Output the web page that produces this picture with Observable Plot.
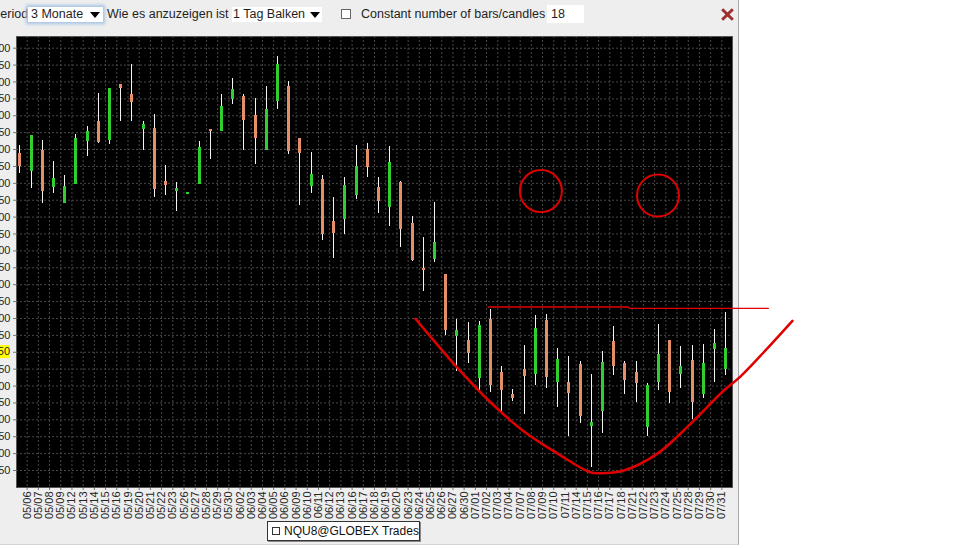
<!DOCTYPE html>
<html><head><meta charset="utf-8">
<script src="https://cdn.jsdelivr.net/npm/d3@7"></script>
<script src="https://cdn.jsdelivr.net/npm/@observablehq/plot@0.6"></script>
<style>
html,body{margin:0;padding:0;background:#fff;width:972px;height:548px;overflow:hidden;font-family:"Liberation Sans",Arial,sans-serif;}
#panel{position:absolute;left:0;top:0;width:738px;height:544px;background:#eeeeee;border-right:1px solid #a8a8a8;border-bottom:1px solid #d4d4d4;}
.tb{position:absolute;top:6px;font-size:12.5px;color:#1e1e1e;line-height:16px;white-space:nowrap;}
.box{position:absolute;background:#fff;}
.tri{position:absolute;width:0;height:0;border-left:5px solid transparent;border-right:5px solid transparent;border-top:6px solid #000;}
#chart{position:absolute;left:0;top:30px;}
#legend{position:absolute;left:267px;top:521px;width:151px;height:18px;background:#fff;border:1px solid #333;box-shadow:1px 1px 0 #888;font-size:12px;line-height:18px;color:#111;white-space:nowrap;}
#legend .sq{display:inline-block;width:6px;height:6px;border:1px solid #333;margin:0 4px 0 4px;vertical-align:0px;}
#close{position:absolute;left:721px;top:8px;width:13px;height:13px;}
#close i{position:absolute;left:-1px;top:5px;width:15px;height:3px;background:#9c2f2f;}
</style></head>
<body>
<div id="panel"></div>
<div class="tb" style="left:-8px">Period</div>
<div class="box" style="left:28px;top:7px;width:75px;height:15px;box-shadow:0 0 3px 2px #a8c4e6;"></div>
<div class="tb" style="left:31px">3 Monate</div>
<div class="tri" style="left:90px;top:12px"></div>
<div class="tb" style="left:107px">Wie es anzuzeigen ist</div>
<div class="box" style="left:232px;top:7px;width:90px;height:15px;"></div>
<div class="tb" style="left:233px">1 Tag Balken</div>
<div class="tri" style="left:310px;top:12px"></div>
<div class="box" style="left:341px;top:9px;width:8px;height:8px;border:1px solid #666;"></div>
<div class="tb" style="left:361px">Constant number of bars/candles</div>
<div class="box" style="left:547px;top:5px;width:37px;height:18px;"></div>
<div class="tb" style="left:551px">18</div>
<div id="close"><i style="transform:rotate(45deg)"></i><i style="transform:rotate(-45deg)"></i></div>
<div id="chart"></div>
<div id="legend"><span class="sq"></span>NQU8@GLOBEX Trades</div>
<script>
// ---- data ----
const dayLabels = ["05/06","05/07","05/08","05/09","05/12","05/13","05/14","05/15","05/16","05/19","05/20","05/21","05/22","05/23","05/26","05/27","05/28","05/29","05/30",
"06/02","06/03","06/04","06/05","06/06","06/09","06/10","06/11","06/12","06/13","06/16","06/17","06/18","06/19","06/20","06/23","06/24","06/25","06/26","06/27","06/30",
"07/01","07/02","07/03","07/04","07/07","07/08","07/09","07/10","07/11","07/14","07/15","07/16","07/17","07/18","07/21","07/22","07/23","07/24","07/25","07/28","07/29","07/30","07/31"];
const openPx  = [7088,7034,7098,6987,6941,6997,7124,7184,7126,7293,7262,7159,7162,7006,6977,6968,6997,7159,7154,7248,7257,7201,7097,7243,7287,7134,6992,7011,6888,6893,6965,7100,6987,6927,7001,6880,6748,6775,6729,6546,6536,6421,6598,6440,6374,6450,6435,6595,6411,6411,6465,6280,6325,6531,6467,6440,6278,6411,6534,6433,6475,6374,6509,6450];
const highPx  = [7113,7142,7127,7065,7024,7144,7169,7267,7282,7294,7353,7184,7205,7054,7001,6972,7124,7159,7262,7310,7262,7250,7287,7375,7302,7134,7092,7024,6959,7018,7113,7118,7016,7110,7004,6903,6841,6944,6731,6598,6588,6591,6627,6457,6391,6519,6608,6611,6512,6487,6473,6435,6501,6575,6472,6472,6408,6583,6536,6516,6519,6522,6568,6617];
const lowPx   = [7028,6984,6939,6969,6939,6997,7080,7119,7116,7184,7184,7097,6959,6965,6916,6968,6997,7070,7152,7233,7097,7056,7097,7218,7085,6934,6969,6831,6778,6849,6952,7016,6910,6871,6809,6770,6679,6765,6549,6443,6467,6388,6381,6325,6355,6315,6403,6393,6337,6251,6288,6160,6260,6430,6376,6352,6251,6388,6347,6393,6300,6362,6411,6430];
const closePx = [7051,7142,6977,7013,6992,7132,7154,7120,7280,7282,7238,7174,6982,6995,6985,6972,7105,7154,7228,7277,7186,7134,7218,7353,7095,7087,7026,6849,6851,6995,7051,7046,6947,7063,6864,6771,6743,6826,6563,6563,6496,6578,6401,6388,6362,6427,6571,6424,6478,6378,6309,6292,6470,6457,6416,6408,6401,6494,6381,6457,6352,6467,6526,6512];
const priceTicks = [7400,7350,7300,7250,7200,7150,7100,7050,7000,6950,6900,6850,6800,6750,6700,6650,6600,6550,6500,6450,6400,6350,6300,6250,6200,6150];
const lastPrice = 6500.5;
// hand-drawn red annotations, in (bar index, price) units
const rimLine = [[41.8,6634],[54.3,6634],[54.4,6630],[66.8,6630]];
const cupCurve = [[35.3,6599],[37.5,6513],[39.05,6454],[42.0,6352],[44.9,6268],[48.0,6200],[50.9,6145],[51.8,6142],[53.9,6150],[56.9,6200],[59.85,6288],[62.8,6386],[64.3,6428],[66.5,6504],[68.95,6593]];
const circleMarks = [[46.5,6977],[56.95,6964]];
const strayDot = [[44.6,7036]];

// ---- build ----
const candles = openPx.map((o,i)=>({i, o, h: highPx[i], l: lowPx[i], c: closePx[i], up: closePx[i] > openPx[i]}));
const labelOffset = 0.65;
const labelPos = dayLabels.map((d,i)=>i + labelOffset);
const GREEN = "#2fcf2f", DOWN = "#e68e68";

const plot = Plot.plot({
  width: 972, height: 490,
  marginTop: 6, marginLeft: 16, marginRight: 240, marginBottom: 33,
  style: {background: "transparent", overflow: "visible", fontFamily: "'Liberation Sans', Arial, sans-serif", fontSize: "11px", color: "#262626"},
  x: {type: "linear", domain: [-0.3, 63.6], label: null},
  y: {domain: [6099.7, 7434.6], label: null},
  marks: [
    Plot.frame({fill: "#000", stroke: "#000"}),
    Plot.gridY(priceTicks, {stroke: "#474747", strokeOpacity: 1, strokeDasharray: "2,2"}),
    Plot.gridX(labelPos, {stroke: "#474747", strokeOpacity: 1, strokeDasharray: "2,2"}),
    Plot.axisY(priceTicks, {tickSize: 3, tickPadding: 3, tickFormat: d => Math.abs(d - lastPrice) < 25 ? "" : String(d), label: null, stroke: "#777"}),
    Plot.axisX(labelPos, {tickRotate: -90, tickSize: 3, tickPadding: 1, tickFormat: d => dayLabels[Math.round(d - labelOffset)], label: null, stroke: "#777"}),
    Plot.ruleX(candles, {x: "i", y1: "l", y2: "h", stroke: "#f4f4f4", strokeWidth: 1, shapeRendering: "crispEdges"}),
    Plot.ruleX(candles, {x: "i", y1: "o", y2: "c", stroke: d => d.up ? GREEN : DOWN, strokeWidth: 3, shapeRendering: "crispEdges"}),
    Plot.frame({stroke: "#555"}),
    Plot.line(rimLine, {x: d => d[0], y: d => d[1], stroke: "#e00000", strokeWidth: 1.3}),
    Plot.line(cupCurve, {x: d => d[0], y: d => d[1], stroke: "#e00000", strokeWidth: 2.5, curve: "catmull-rom"}),
    Plot.dot(circleMarks, {x: d => d[0], y: d => d[1], r: 21, stroke: "#e00000", strokeWidth: 2, fill: "none"}),
    Plot.dot(strayDot, {x: d => d[0], y: d => d[1], r: 1, fill: "#e00000", stroke: "none"})
  ]
});

// current-price marker on the price axis
const yPix = plot.scale("y").apply(lastPrice);
const g = d3.select(plot).append("g");
g.append("rect").attr("x", -40).attr("y", yPix - 6.5).attr("width", 49.5).attr("height", 13).attr("fill", "#ffff00");
g.append("text").attr("x", 10).attr("y", yPix).attr("dy", "0.32em").attr("text-anchor", "end")
  .attr("font-size", 11).attr("fill", "#262626").text(lastPrice.toFixed(2));

document.getElementById("chart").appendChild(plot);
</script>
</body></html>
